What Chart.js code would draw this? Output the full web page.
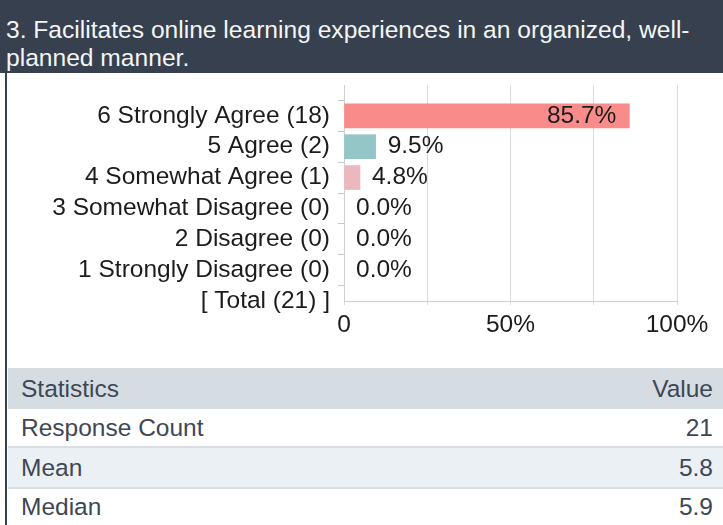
<!DOCTYPE html>
<html>
<head>
<meta charset="utf-8">
<script src="https://cdn.jsdelivr.net/npm/chart.js@4"></script>
<style>
    body {
        margin: 0;
        width: 723px;
        height: 525px;
        background: #fff;
        position: relative;
        overflow: hidden;
        font-family: "Liberation Sans", Arial, sans-serif;
    }
    #title {
        position: absolute;
        left: 0;
        top: 0;
        width: 723px;
        height: 73px;
        box-sizing: border-box;
        padding: 16px 0 0 6px;
        background: #36404e;
        color: #f4f5f6;
        font-size: 24.6px;
        line-height: 28px;
    }
    #edge {
        position: absolute;
        left: 5px;
        top: 73px;
        width: 2px;
        height: 452px;
        background: #36404e;
    }
    #chartBox {
        position: absolute;
        left: 8px;
        top: 73px;
    }
    #stats {
        position: absolute;
        left: 8px;
        top: 368px;
        width: 715px;
        color: #3e4756;
        font-size: 24.5px;
    }
    .row {
        position: relative;
        box-sizing: content-box;
        padding: 0 10px 0 13px;
        display: flex;
        justify-content: space-between;
    }
</style>
</head>
<body>
<div id="title">3. Facilitates online learning experiences in an organized, well-planned manner.</div>
<div id="edge"></div>
<div id="chartBox"><canvas id="surveyChart" width="715" height="290"></canvas></div>
<div id="stats"></div>
<script>
const categories = [
    "6 Strongly Agree (18)",
    "5 Agree (2)",
    "4 Somewhat Agree (1)",
    "3 Somewhat Disagree (0)",
    "2 Disagree (0)",
    "1 Strongly Disagree (0)",
    "[ Total (21) ]",
]
const percents = [85.7, 9.5, 4.8, 0, 0, 0, null]
const barColors = ["#f98b8b", "#95c6c7", "#ecb8bd", "#cccccc", "#cccccc", "#cccccc", "#cccccc"]
const xTickLabels = ["0", "", "50%", "", "100%"]
const statsHeader = ["Statistics", "Value"]
const statsRows = [
    ["Response Count", "21"],
    ["Mean", "5.8"],
    ["Median", "5.9"],
]

const fontFamily = "'Liberation Sans', Arial, sans-serif"
const textColor = "#1c1c1c"
const gridColor = "#dcdcdc"

// percentage labels next to / inside each bar
const valueLabels = {
    id: "valueLabels",
    afterDatasetsDraw(chart) {
        const { ctx } = chart
        const values = chart.data.datasets[0].data
        ctx.save()
        ctx.font = `24.5px ${fontFamily}`
        ctx.fillStyle = textColor
        ctx.textBaseline = "middle"
        chart.getDatasetMeta(0).data.forEach((bar, i) => {
            const v = values[i]
            if (v === null || v === undefined) return
            const text = `${v.toFixed(1)}%`
            if (v > 50) {
                ctx.textAlign = "right"
                ctx.fillText(text, bar.x - 13, bar.y)
            } else {
                ctx.textAlign = "left"
                ctx.fillText(text, bar.x + 12, bar.y)
            }
        })
        ctx.restore()
    },
}

new Chart(document.getElementById("surveyChart").getContext("2d"), {
    type: "bar",
    data: {
        // blank first slot keeps the top of the plot above the first bar
        labels: ["", ...categories],
        datasets: [
            {
                data: [null, ...percents],
                backgroundColor: ["transparent", ...barColors],
                borderWidth: 0,
                barThickness: 24,
            },
        ],
    },
    options: {
        indexAxis: "y",
        responsive: false,
        animation: false,
        devicePixelRatio: 1,
        layout: { padding: { top: 12, right: 46, left: 0, bottom: 0 } },
        plugins: {
            legend: { display: false },
            tooltip: { enabled: false },
        },
        scales: {
            x: {
                min: 0,
                max: 100,
                ticks: {
                    stepSize: 25,
                    autoSkip: false,
                    maxRotation: 0,
                    padding: 6,
                    color: textColor,
                    font: { size: 24.5, family: fontFamily },
                    callback: (value, index) => xTickLabels[index],
                },
                grid: { color: gridColor, tickColor: gridColor, tickLength: 4 },
                border: { color: "#d0d0d0" },
                afterFit: (scale) => { scale.height = 62 },
            },
            y: {
                offset: false,
                ticks: {
                    autoSkip: false,
                    padding: 8,
                    color: textColor,
                    font: { size: 24.5, family: fontFamily },
                },
                grid: {
                    drawOnChartArea: false,
                    tickLength: 6,
                    tickColor: (c) => (c.index === 0 ? "transparent" : "#c8c8c8"),
                },
                border: { color: "#d0d0d0" },
                afterFit: (scale) => {
                    scale.width = 336
                    scale.paddingTop = 0
                    scale.paddingBottom = 0
                },
            },
        },
    },
    plugins: [valueLabels],
})

// statistics table
const stats = document.getElementById("stats")
const rowHeights = [41, 37, 39, 36]
const rowBgs = ["#d6dde2", "#ffffff", "#ebf0f4", "#ffffff"]
const addRow = (cells, i) => {
    const row = document.createElement("div")
    row.className = "row"
    row.style.height = `${rowHeights[i]}px`
    row.style.lineHeight = `${rowHeights[i]}px`
    row.style.background = rowBgs[i]
    if (i > 1) row.style.borderTop = "2px solid #d8dee3"
    cells.forEach((text) => {
        const span = document.createElement("span")
        span.textContent = text
        row.appendChild(span)
    })
    stats.appendChild(row)
}
;[statsHeader, ...statsRows].forEach(addRow)
</script>
</body>
</html>
